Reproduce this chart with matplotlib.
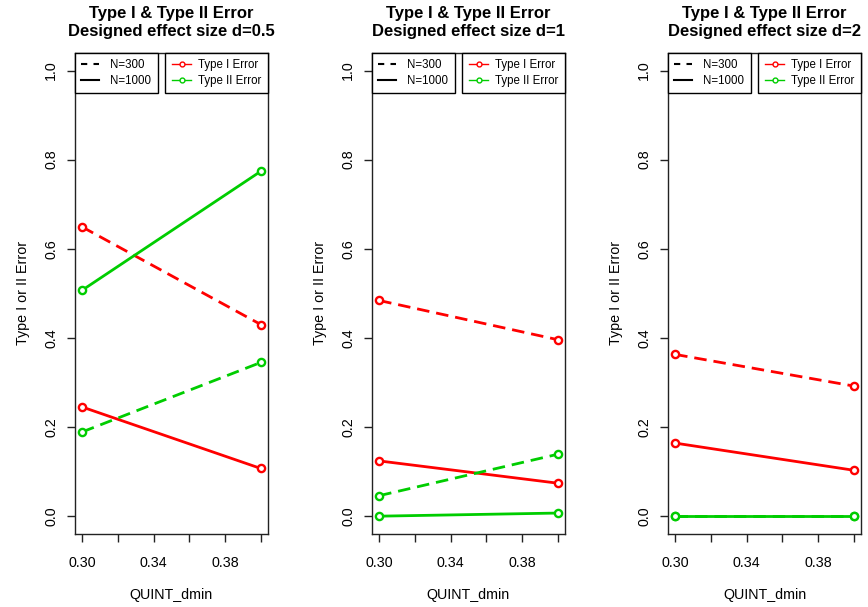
import matplotlib.pyplot as plt
from matplotlib.lines import Line2D

plt.rcParams['font.family'] = ['Liberation Sans', 'DejaVu Sans']

# QUINT_dmin values on the x axis
dmin = [0.30, 0.40]

# designed effect sizes, one panel each
effect_sizes = ['0.5', '1', '2']

# error rates per panel: Type I / Type II for N=300 and N=1000
type1_n300 = [[0.649, 0.430], [0.484, 0.396], [0.363, 0.292]]
type1_n1000 = [[0.245, 0.107], [0.124, 0.074], [0.164, 0.103]]
type2_n300 = [[0.189, 0.345], [0.046, 0.139], [0.000, 0.000]]
type2_n1000 = [[0.507, 0.774], [0.000, 0.007], [0.000, 0.000]]

x_ticks = [0.30, 0.32, 0.34, 0.36, 0.38, 0.40]
x_ticklabels = ['0.30', '', '0.34', '', '0.38', '']
y_ticks = [0.0, 0.2, 0.4, 0.6, 0.8, 1.0]
y_ticklabels = ['0.0', '0.2', '0.4', '0.6', '0.8', '1.0']

RED = '#FF0000'
GREEN = '#00CD00'
DASH = (0, (4.5, 2.5))

fig = plt.figure(figsize=(8.68, 6.07), dpi=100)

lefts = [75, 372, 668]
for i, d in enumerate(effect_sizes):
    ax = fig.add_axes([lefts[i] / 868, 1 - 534 / 607, 193 / 868, (534 - 52.7) / 607])

    style = dict(lw=2, marker='o', ms=5.2, mew=1.7, mfc='white')
    ax.plot(dmin, type1_n300[i], color=RED, ls=DASH, **style)
    ax.plot(dmin, type1_n1000[i], color=RED, ls='-', **style)
    ax.plot(dmin, type2_n300[i], color=GREEN, ls=DASH, **style)
    ax.plot(dmin, type2_n1000[i], color=GREEN, ls='-', **style)

    ax.set_xlim(0.296, 0.404)
    ax.set_ylim(-0.04, 1.04)
    ax.set_xticks(x_ticks)
    ax.set_xticklabels(x_ticklabels)
    ax.set_yticks(y_ticks)
    ax.set_yticklabels(y_ticklabels, rotation=90, va='center')
    ax.tick_params(direction='out', length=6, width=1, labelsize=10.3, color='#222222')
    ax.tick_params(axis='x', pad=10)
    ax.tick_params(axis='y', pad=6)
    for sp in ax.spines.values():
        sp.set_linewidth(1)
        sp.set_color('#222222')

    ax.set_xlabel('QUINT_dmin', fontsize=10.3, labelpad=13)
    ax.set_ylabel('Type I or II Error', fontsize=10.3, labelpad=10)
    ax.set_title('Type I & Type II Error\nDesigned effect size d=' + d,
                 fontsize=12, fontweight='bold', pad=12, linespacing=1.25)

    # two legends at the top corners, like the R plot
    n_handles = [Line2D([], [], color='black', lw=1.5, ls=(0, (3, 3))),
                 Line2D([], [], color='black', lw=1.5, ls='-')]
    leg1 = ax.legend(n_handles, ['N=300', 'N=1000'], loc='upper left',
                     borderaxespad=0, fontsize=8.3, fancybox=False,
                     edgecolor='black', framealpha=1, handlelength=1.5,
                     labelspacing=0.35, borderpad=0.55, handletextpad=1.0)
    leg1.get_frame().set_linewidth(1)
    ax.add_artist(leg1)

    e_handles = [Line2D([], [], color=RED, lw=1, marker='o', ms=3.5, mfc='white', mew=1),
                 Line2D([], [], color=GREEN, lw=1, marker='o', ms=3.5, mfc='white', mew=1)]
    leg2 = ax.legend(e_handles, ['Type I Error', 'Type II Error'], loc='upper right',
                     borderaxespad=0, fontsize=8.3, fancybox=False,
                     edgecolor='black', framealpha=1, handlelength=1.7,
                     labelspacing=0.35, borderpad=0.55, handletextpad=0.6)
    leg2.get_frame().set_linewidth(1)

fig.savefig('out.png', dpi=100)
